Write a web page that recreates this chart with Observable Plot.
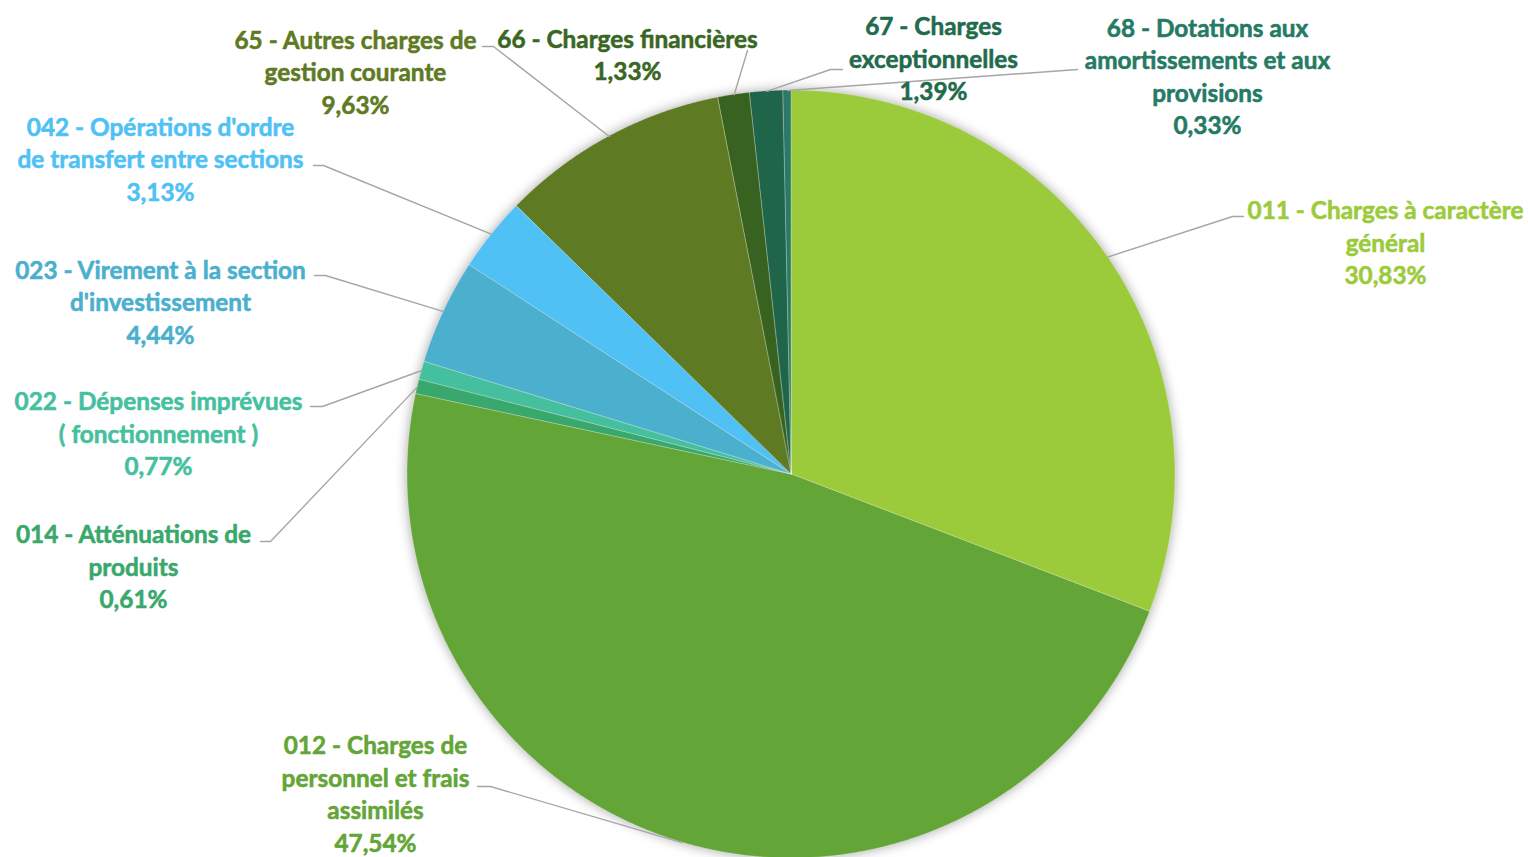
<!DOCTYPE html>
<html>
<head>
<meta charset="utf-8">
<script src="https://cdn.jsdelivr.net/npm/d3@7"></script>
<script src="https://cdn.jsdelivr.net/npm/@observablehq/plot@0.6"></script>
<style>
  html, body { margin: 0; padding: 0; background: #fff; }
  #chart svg { display: block; }
</style>
</head>
<body>
<div id="chart"></div>
<script>
// ---- data ----
const codes = ["011", "012", "014", "022", "023", "042", "65", "66", "67", "68"];
const labelLines = [
  ["011 - Charges à caractère", "général"],
  ["012 - Charges de", "personnel et frais", "assimilés"],
  ["014 - Atténuations de", "produits"],
  ["022 - Dépenses imprévues", "( fonctionnement )"],
  ["023 - Virement à la section", "d'investissement"],
  ["042 - Opérations d'ordre", "de transfert entre sections"],
  ["65 - Autres charges de", "gestion courante"],
  ["66 - Charges financières"],
  ["67 - Charges", "exceptionnelles"],
  ["68 - Dotations aux", "amortissements et aux", "provisions"]
];
const shares = [30.83, 47.54, 0.61, 0.77, 4.44, 3.13, 9.63, 1.33, 1.39, 0.33];

// ---- styles ----
const sliceColors = ["#9BCB3B", "#63A536", "#38A86C", "#45C09F", "#4BAFCE", "#4FC1F5", "#5E7A22", "#38621F", "#1F654A", "#2A7A6A"];
const labelColors = ["#9BCB3B", "#63A536", "#38A86C", "#45C09F", "#4BAFCE", "#4FC1F5", "#5E7A22", "#3A6623", "#1F6B4C", "#257A64"];

// ---- layout ----
const W = 1528, H = 857;
const cx = 791, cy = 474, R = 384;
// label block centres and leader elbows (manual label placement, as in the original)
const labelCenterX = [1385, 375, 133, 158, 160, 160, 355, 627, 933, 1207];
const labelCenterY = [241, 792, 565, 432, 300.5, 157.5, 70.5, 53, 57, 74.5];
const elbowX = [1232, 490, 270, 322, 325, 323, 493, 747, 830, 1077];
const elbowY = [216, 786, 541, 406, 275, 165, 46, 50, 69, 69];
const tickX  = [1243, 477, 260, 310, 314, 313, 482, null, 842, null];

const fmt = v => v.toFixed(2).replace(".", ",") + "%";

const arcs = d3.pie().sort(null).value(d => d)(shares);

// outer-arc points of each slice; the area closes each one back to the centre
const arcPts = [];
arcs.forEach((a, i) => {
  const n = Math.max(2, Math.ceil((a.endAngle - a.startAngle) / (Math.PI / 720)));
  for (let k = 0; k <= n; k++) {
    const t = a.startAngle + (a.endAngle - a.startAngle) * k / n;
    arcPts.push({code: codes[i], x: cx + R * Math.sin(t), y: cy - R * Math.cos(t), cx: cx, cy: cy});
  }
});

// leader lines
const leaderPts = [];
arcs.forEach((a, i) => {
  const m = (a.startAngle + a.endAngle) / 2;
  leaderPts.push({code: codes[i], x: cx + R * Math.sin(m), y: cy - R * Math.cos(m)});
  leaderPts.push({code: codes[i], x: elbowX[i], y: elbowY[i]});
  if (tickX[i] != null) leaderPts.push({code: codes[i], x: tickX[i], y: elbowY[i]});
});

const labelsData = codes.map((c, i) => ({
  code: c,
  x: labelCenterX[i],
  y: labelCenterY[i],
  text: [...labelLines[i], fmt(shares[i])].join("\n"),
  color: labelColors[i]
}));

// font size fitted so Lato matches the original Calibri width
const ctx = document.createElement("canvas").getContext("2d");
ctx.font = "bold 100px Lato";
const w100 = ctx.measureText("011 - Charges à caractère").width;
const fontSize = Math.min(27, 276 / w100 * 100);

const chart = Plot.plot({
  width: W,
  height: H,
  margin: 0,
  x: {type: "identity", axis: null},
  y: {type: "identity", axis: null},
  color: {type: "ordinal", domain: codes, range: sliceColors},
  marks: [
    Plot.area(arcPts, {
      x1: "x", y1: "y", x2: "cx", y2: "cy", z: "code", fill: "code",
      stroke: "white", strokeWidth: 0.6, strokeOpacity: 0.45
    }),
    Plot.line(leaderPts, {x: "x", y: "y", z: "code", stroke: "#A6A6A6", strokeWidth: 1.4}),
    Plot.text(labelsData, {
      x: "x", y: "y", text: "text", fill: d => d.color, stroke: d => d.color, strokeWidth: 0.55,
      fontSize: fontSize, fontWeight: "bold", fontFamily: "Lato",
      lineAnchor: "middle", lineHeight: 32.5 / fontSize, textAnchor: "middle"
    })
  ]
});

document.getElementById("chart").appendChild(chart);
const pieG = chart.querySelector('g[aria-label="area"]');
if (pieG) pieG.style.filter = "drop-shadow(0px 0px 6px rgba(0,0,0,0.35))";
</script>
</body>
</html>
